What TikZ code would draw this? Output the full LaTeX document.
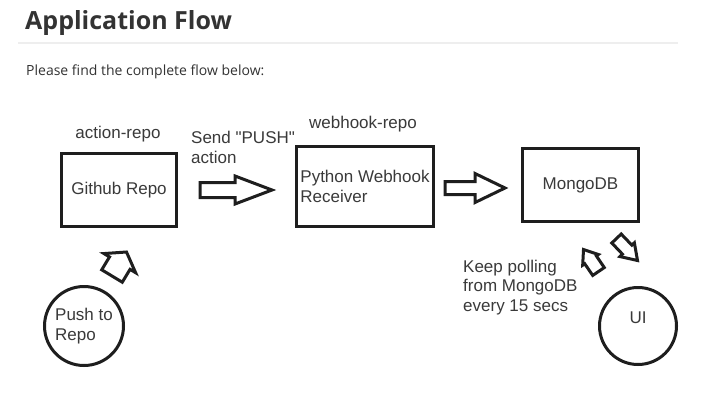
\documentclass[tikz,border=0pt]{standalone}
\usepackage{fontspec}
\setmainfont{Liberation Sans}
\newfontfamily\headfont{Open Sans}
\usetikzlibrary{calc}
\definecolor{ink}{HTML}{1E1E1E}
\definecolor{txt}{HTML}{3A3A3A}
\definecolor{head}{HTML}{333333}
\definecolor{rulegray}{HTML}{EEEEEE}
\tikzset{
  box/.style={draw=ink, line width=3pt, minimum width=115pt, minimum height=73pt, inner sep=0pt, text=txt, font=\fontsize{17}{20}\selectfont},
  roundnode/.style={draw=ink, circle, line width=3pt, inner sep=0pt, text=txt, align=left, font=\fontsize{17}{20}\selectfont},
  lbl/.style={text=txt, inner sep=0pt, align=left, font=\fontsize{17}{19.5}\selectfont},
  barrow/.style={draw=ink, line width=3pt, fill=white, line join=miter},
}
% block arrow: from, to, body half width, head half width, head length
\newcommand{\blockarrow}[5]{%
  \coordinate (#1#2) at ($(#2)!#5!(#1)$);
  \draw[barrow] ($(#1)!#3!90:(#2)$) -- ($(#1#2)!#3!90:(#2)$) -- ($(#1#2)!#4!90:(#2)$) -- (#2)
    -- ($(#1#2)!#4!-90:(#2)$) -- ($(#1#2)!#3!-90:(#2)$) -- ($(#1)!#3!-90:(#2)$) -- cycle;}
\begin{document}
\begin{tikzpicture}[x=1pt, y=-1pt]
\useasboundingbox (0,0) rectangle (719,404);
\fill [white] (0,0) rectangle (719,404);
% heading
\node [anchor=base west, inner sep=0pt, text=head, font=\headfont\bfseries\fontsize{25}{30}\selectfont] (title) at (25,30) {Application Flow};
\draw [rulegray, line width=2pt] (18,43) -- (678,43);
\node [anchor=base west, inner sep=0pt, text=head, font=\headfont\fontsize{14}{17}\selectfont] (intro) at (26,75) {Please find the complete flow below:};
% boxes
\node [box] (github) at (119,190) {Github Repo};
\node [box, minimum width=137pt, minimum height=80pt, align=left] (python) at (365,186.5) {Python Webhook\\Receiver};
\node [box, minimum width=116pt] (mongo) at (580.5,185) {MongoDB};
\node [roundnode, minimum size=79pt] (push) at (84,326) {Push to\\Repo};
\node [roundnode, minimum size=77pt] (ui) at (638,326) {\raisebox{16pt}{UI}};
% labels
\node [lbl] (actlbl) at (118,134) {action-repo};
\node [lbl] (hooklbl) at (363,124) {webhook-repo};
\node [lbl, anchor=west] (sendlbl) at (191,147.5) {Send \textquotedbl PUSH\textquotedbl\\action};
\node [lbl, anchor=west] (polllbl) at (463,287.5) {Keep polling\\from MongoDB\\every 15 secs};
% arrows
\coordinate (a1s) at (200,190);
\coordinate (a1e) at (272,190);
\blockarrow{a1s}{a1e}{7.5pt}{14pt}{37pt}
\coordinate (a2s) at (445,188);
\coordinate (a2e) at (505,188);
\blockarrow{a2s}{a2e}{6.5pt}{14.5pt}{30pt}
\coordinate (a3s) at (112,276);
\coordinate (a3e) at (126.5,252);
\blockarrow{a3s}{a3e}{12pt}{18.5pt}{13pt}
\coordinate (a4s) at (616.5,238.5);
\coordinate (a4e) at (637.5,260.5);
\blockarrow{a4s}{a4e}{6.5pt}{10pt}{15pt}
\coordinate (a5s) at (598.5,271.5);
\coordinate (a5e) at (583.5,249.5);
\blockarrow{a5s}{a5e}{7pt}{9.5pt}{12.5pt}
\end{tikzpicture}
\end{document}
